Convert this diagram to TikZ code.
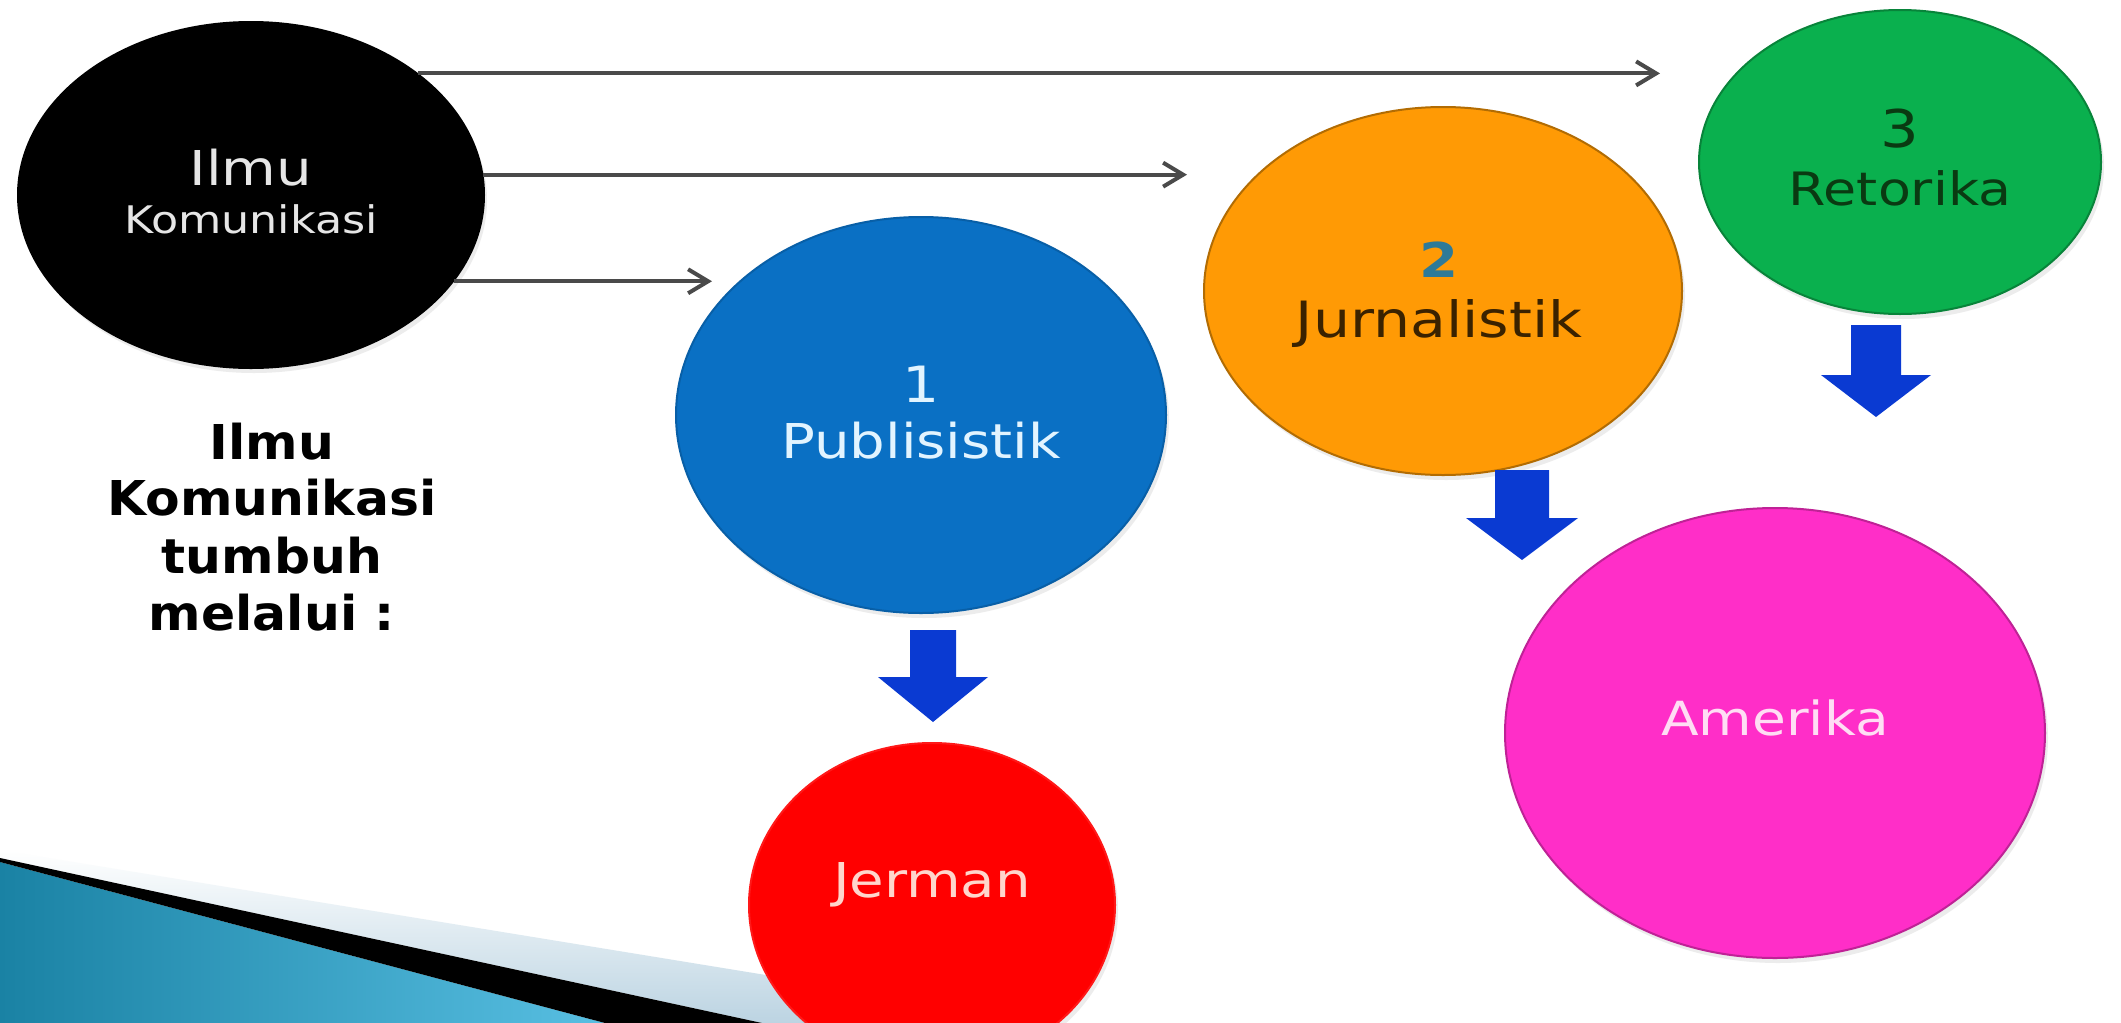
\documentclass[tikz,border=0pt]{standalone}
\usepackage{fontspec}
\setmainfont{DejaVu Sans}
\usetikzlibrary{shapes.geometric,arrows.meta,shadows}
\definecolor{cBlue}{HTML}{0A70C4}
\definecolor{cOrange}{HTML}{FF9A05}
\definecolor{cGreen}{HTML}{0AB04E}
\definecolor{cPink}{HTML}{FF2EC8}
\definecolor{cRed}{HTML}{FF0000}
\definecolor{cArrow}{HTML}{0A3AD2}
\definecolor{cLine}{HTML}{4A4A4A}
\definecolor{tealA}{HTML}{1A82A4}
\definecolor{tealB}{HTML}{58BFE2}
\definecolor{lightband}{HTML}{BCD4E2}
\definecolor{txtGray}{HTML}{E6E6E6}
\definecolor{txtBlue}{HTML}{E2F4FF}
\definecolor{txtTeal}{HTML}{2E7A98}
\definecolor{txtBrown}{HTML}{3A2200}
\definecolor{txtGreen}{HTML}{0A3A12}
\definecolor{txtPink}{HTML}{FFDDF4}
\definecolor{txtRed}{HTML}{FFD6CC}
\newcommand\sx[1]{\scalebox{1.17}[1]{#1}}
\newcommand\fs[1]{\fontsize{#1}{#1}\selectfont}
\newcommand\barrow[6]{\fill[cArrow] (#1-#5,#2) -- (#1+#5,#2) -- (#1+#5,#3) -- (#1+#6,#3) -- (#1,#4) -- (#1-#6,#3) -- (#1-#5,#3) -- cycle;}
\begin{document}
\begin{tikzpicture}[x=1pt,y=-1pt,
  blob/.style={ellipse, inner sep=0pt, line width=2pt,
     drop shadow={shadow xshift=3pt, shadow yshift=-5pt, opacity=0.15}},
  conn/.style={draw=cLine, line width=4pt, -{Straight Barb[length=20pt,width=24pt]}},
  lbl/.style={anchor=base, inner sep=0pt},
]
\useasboundingbox (0,0) rectangle (2121,1023);
\fill[white] (0,0) rectangle (2121,1023);

% bottom-left decoration
\shade[left color=tealA, right color=tealB] (0,862) -- (605,1023) -- (0,1023) -- cycle;
\shade[top color=white, bottom color=lightband] (0,850) -- (1060,1023) -- (762,1023) -- (0,858) -- cycle;
\fill[black] (0,858) -- (762,1023) -- (605,1023) -- (0,862) -- cycle;

% ellipses
\node[blob, fill=black, draw=black, minimum width=466pt, minimum height=346pt] (ilmu) at (251,195) {};
\node[blob, fill=cBlue, draw=cBlue!85!black, minimum width=490pt, minimum height=396pt] (publ) at (921,415) {};
\node[blob, fill=cOrange, draw=cOrange!70!black, minimum width=478pt, minimum height=368pt] (jurn) at (1443,291) {};
\node[blob, fill=cGreen, draw=cGreen!75!black, minimum width=402pt, minimum height=304pt] (reto) at (1900,162) {};
\node[blob, fill=cPink, draw=cPink!75!black, minimum width=540pt, minimum height=450pt] (amer) at (1775,733) {};
\node[blob, fill=cRed, draw=cRed!90!white, minimum width=366pt, minimum height=324pt] (jerm) at (932,905) {};

% texts in ellipses
\node[lbl, text=txtGray, font=\fs{48}] (ilmuA) at (251,185) {\sx{Ilmu}};
\node[lbl, text=txtGray, font=\fs{38}] (ilmuB) at (251,233) {\sx{Komunikasi}};
\node[lbl, text=txtBlue, font=\fs{50}] (publA) at (921,402) {\sx{1}};
\node[lbl, text=txtBlue, font=\fs{48}] (publB) at (921,458) {\sx{Publisistik}};
\node[lbl, text=txtTeal, font=\bfseries\fs{48}] (jurnA) at (1439,277) {\sx{2}};
\node[lbl, text=txtBrown, font=\fs{50}] (jurnB) at (1439,337) {\sx{Jurnalistik}};
\node[lbl, text=txtGreen, font=\fs{52}] (retoA) at (1900,147) {\sx{3}};
\node[lbl, text=txtGreen, font=\fs{46}] (retoB) at (1900,205) {\sx{Retorika}};
\node[lbl, text=txtPink, font=\fs{47}] (amerA) at (1775,735) {\sx{Amerika}};
\node[lbl, text=txtRed, font=\fs{48}] (jermA) at (932,897) {\sx{Jerman}};

% side caption
\node[lbl, font=\bfseries\fs{48}] (capA) at (272,459) {\scalebox{1.05}[1]{Ilmu}};
\node[lbl, font=\bfseries\fs{48}] (capB) at (272,515) {\scalebox{1.05}[1]{Komunikasi}};
\node[lbl, font=\bfseries\fs{48}] (capC) at (272,573) {\scalebox{1.05}[1]{tumbuh}};
\node[lbl, font=\bfseries\fs{48}] (capD) at (272,630) {\scalebox{1.05}[1]{melalui :}};

% connectors
\coordinate (t1) at (712,0);
\coordinate (t2) at (1187,0);
\coordinate (t3) at (1660,0);
\draw[conn] (ilmu.-23.6) -- (ilmu.-23.6 -| t1);
\draw[conn] (ilmu.5.9) -- (ilmu.5.9 -| t2);
\draw[conn] (ilmu.36) -- (ilmu.36 -| t3);

% block arrows
\barrow{933}{630}{677}{722}{23}{55}
\barrow{1522}{470}{518}{560}{27}{56}
\barrow{1876}{325}{375}{417}{25}{55}
\end{tikzpicture}
\end{document}
